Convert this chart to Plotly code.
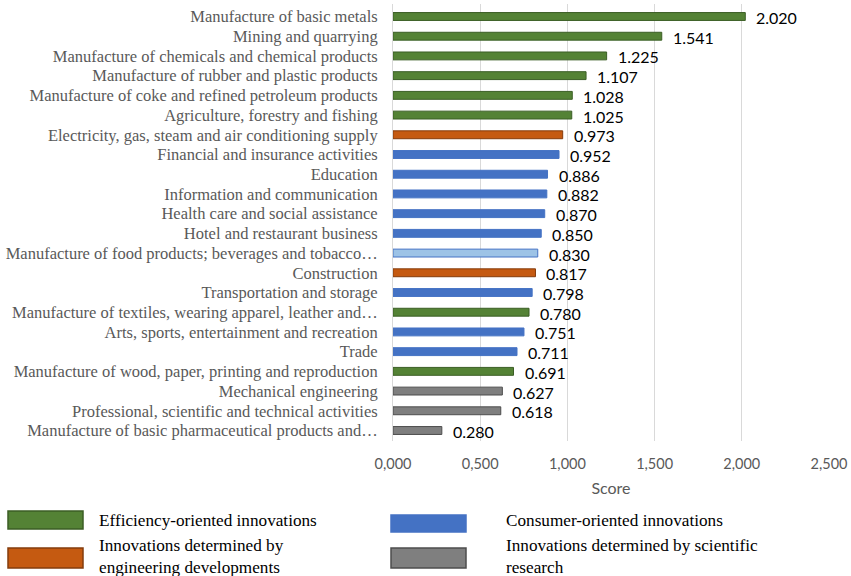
import plotly.graph_objects as go

categories = [
    "Manufacture of basic metals",
    "Mining and quarrying",
    "Manufacture of chemicals and chemical products",
    "Manufacture of rubber and plastic products",
    "Manufacture of coke and refined petroleum products",
    "Agriculture, forestry and fishing",
    "Electricity, gas, steam and air conditioning supply",
    "Financial and insurance activities",
    "Education",
    "Information and communication",
    "Health care and social assistance",
    "Hotel and restaurant business",
    "Manufacture of food products; beverages and tobacco…",
    "Construction",
    "Transportation and storage",
    "Manufacture of textiles, wearing apparel, leather and…",
    "Arts, sports, entertainment and recreation",
    "Trade",
    "Manufacture of wood, paper, printing and reproduction",
    "Mechanical engineering",
    "Professional, scientific and technical activities",
    "Manufacture of basic pharmaceutical products and…",
]
scores = [2.020, 1.541, 1.225, 1.107, 1.028, 1.025, 0.973, 0.952, 0.886, 0.882,
          0.870, 0.850, 0.830, 0.817, 0.798, 0.780, 0.751, 0.711, 0.691, 0.627,
          0.618, 0.280]
groups = ["eff", "eff", "eff", "eff", "eff", "eff", "eng", "con", "con", "con",
          "con", "con", "food", "eng", "con", "eff", "con", "con", "eff", "sci",
          "sci", "sci"]

tick_vals = [0, 0.5, 1.0, 1.5, 2.0, 2.5]
tick_text = ["0,000", "0,500", "1,000", "1,500", "2,000", "2,500"]

fill = {"eff": "#548235", "eng": "#C55A11", "con": "#4472C4", "food": "#9DC3E6", "sci": "#7F7F7F"}
edge = {"eff": "#3B5E25", "eng": "#843C0C", "con": "#4472C4", "food": "#4472C4", "sci": "#4D4D4D"}

legend_items = [
    ("eff", "Efficiency-oriented innovations"),
    ("con", "Consumer-oriented innovations"),
    ("eng", "Innovations determined by<br>engineering developments"),
    ("sci", "Innovations determined by scientific<br>research"),
]

W, H = 851, 576
ML, MR, MT, MB = 393, 22, 4, 135
PW, PH = W - ML - MR, H - MT - MB

def px(x):
    return (x - ML) / PW

def py(y):
    return (H - MB - y) / PH

fig = go.Figure()
fig.add_trace(go.Bar(
    x=scores, y=categories, orientation="h",
    marker=dict(color=[fill[g] for g in groups],
                line=dict(color=[edge[g] for g in groups], width=1)),
    hoverinfo="x+y", showlegend=False,
))

annotations = []
for c, v in zip(categories, scores):
    annotations.append(dict(
        x=v, y=c, xref="x", yref="y", text=f"{v:.3f}", showarrow=False,
        xanchor="left", yanchor="middle", xshift=9, yshift=-1,
        font=dict(family="Lato, Open Sans, sans-serif", size=16, color="#000000"),
    ))

shapes = []
leg_pos = {
    "eff": ((8, 511, 83, 529), 97, 520),
    "con": ((391, 515, 466, 532), 504, 520),
    "eng": ((8, 548, 83, 568), 97, 556),
    "sci": ((391, 548, 466, 568), 504, 556),
}
for g, text in legend_items:
    (x0, y0, x1, y1), tx, ty = leg_pos[g]
    shapes.append(dict(type="rect", xref="paper", yref="paper",
                       x0=px(x0), x1=px(x1), y0=py(y1), y1=py(y0),
                       fillcolor=fill[g], line=dict(color=edge[g], width=1.5)))
    annotations.append(dict(
        x=px(tx), y=py(ty), xref="paper", yref="paper", text=text,
        showarrow=False, xanchor="left", yanchor="middle", align="left",
        font=dict(family="Liberation Serif, Times New Roman, serif", size=17.2, color="#000000"),
    ))

fig.update_layout(
    width=W, height=H,
    margin=dict(l=ML, r=MR, t=MT, b=MB, pad=0),
    paper_bgcolor="white", plot_bgcolor="white",
    bargap=0.6,
    xaxis=dict(range=[0, 2.5], tickmode="array", tickvals=tick_vals, ticktext=tick_text,
               showgrid=True, gridcolor="#D9D9D9", gridwidth=1, zeroline=False,
               showline=False, ticks="", ticklabelstandoff=12, automargin=False,
               tickfont=dict(family="Lato, Open Sans, sans-serif", size=14.5, color="#595959"),
               title=dict(text="Score", standoff=12,
                          font=dict(family="Lato, Open Sans, sans-serif", size=16, color="#595959"))),
    yaxis=dict(autorange="reversed", tickmode="array", tickvals=categories, ticktext=categories,
               showgrid=False, zeroline=False, automargin=False,
               showline=True, linecolor="#D9D9D9", linewidth=1, ticks="",
               ticklabelstandoff=11,
               tickfont=dict(family="Liberation Serif, Times New Roman, serif", size=16.5, color="#595959")),
    annotations=annotations,
    shapes=shapes,
)

fig.write_html("out.html")
